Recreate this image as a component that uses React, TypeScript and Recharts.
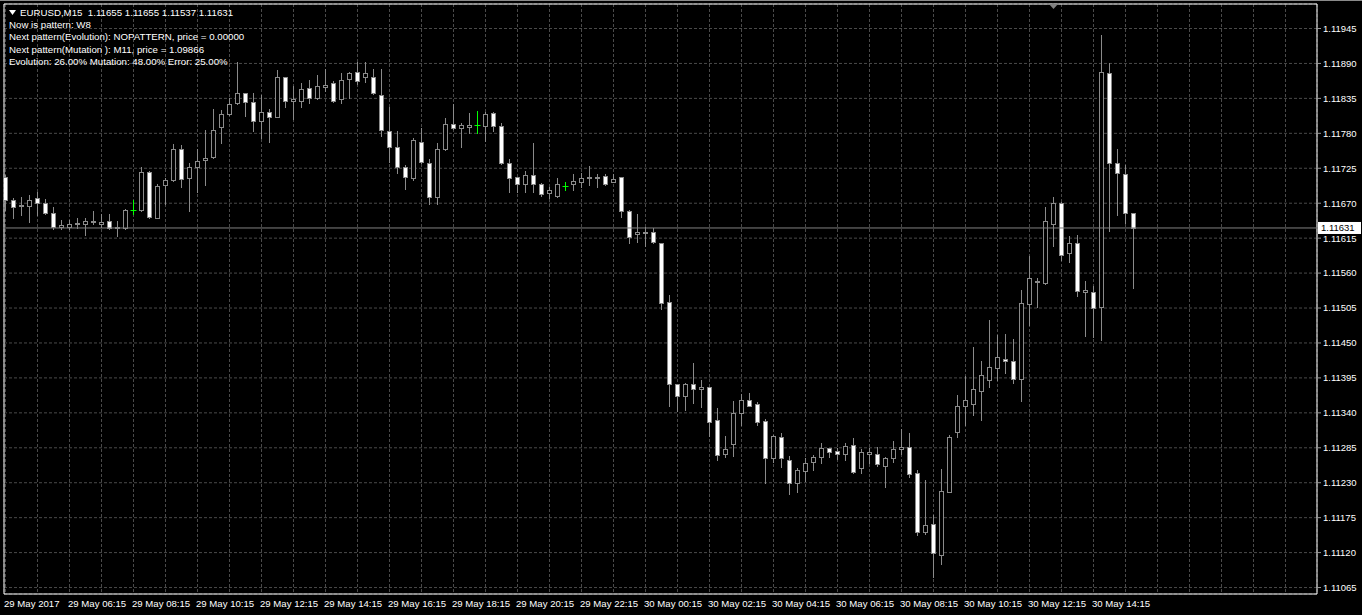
import React from "react";
import { ComposedChart, Bar, XAxis, YAxis, CartesianGrid, ReferenceLine, ReferenceArea } from "recharts";

// ---- data (EURUSD M15, 29–30 May 2017) ----
const opens = [
  1.11712, 1.11675, 1.11665, 1.11665, 1.11678, 1.11670, 1.11654, 1.11633, 1.11633, 1.11638,
  1.11638, 1.11640, 1.11638, 1.11642, 1.11632, 1.11631, 1.11660, 1.11659, 1.11719, 1.11647,
  1.11698, 1.11706, 1.11756, 1.11709, 1.11727, 1.11738, 1.11742, 1.11790, 1.11810, 1.11827,
  1.11843, 1.11829, 1.11800, 1.11813, 1.11806, 1.11868, 1.11831, 1.11831, 1.11851, 1.11835,
  1.11853, 1.11860, 1.11834, 1.11865, 1.11876, 1.11868, 1.11869, 1.11841, 1.11784, 1.11758,
  1.11727, 1.11710, 1.11766, 1.11734, 1.11679, 1.11755, 1.11795, 1.11788, 1.11790, 1.11793,
  1.11792, 1.11812, 1.11792, 1.11733, 1.11711, 1.11701, 1.11714, 1.11701, 1.11686, 1.11682,
  1.11697, 1.11701, 1.11704, 1.11709, 1.11710, 1.11713, 1.11704, 1.11711, 1.11658, 1.11621,
  1.11623, 1.11624, 1.11608, 1.11515, 1.11385, 1.11367, 1.11385, 1.11377, 1.11380, 1.11329,
  1.11275, 1.11291, 1.11339, 1.11361, 1.11354, 1.11327, 1.11269, 1.11302, 1.11266, 1.11229,
  1.11249, 1.11262, 1.11270, 1.11284, 1.11280, 1.11275, 1.11289, 1.11253, 1.11275, 1.11276,
  1.11257, 1.11269, 1.11283, 1.11286, 1.11245, 1.11153, 1.11165, 1.11116, 1.11216, 1.11310,
  1.11351, 1.11354, 1.11375, 1.11392, 1.11410, 1.11425, 1.11421, 1.11394, 1.11511, 1.11548,
  1.11544, 1.11638, 1.11671, 1.11591, 1.11607, 1.11531, 1.11531, 1.11506, 1.11875, 1.11734,
  1.11716, 1.11655,
];
const highs = [
  1.11714, 1.11678, 1.11680, 1.11683, 1.11688, 1.11676, 1.11664, 1.11644, 1.11644, 1.11646,
  1.11646, 1.11658, 1.11653, 1.11653, 1.11642, 1.11661, 1.11675, 1.11727, 1.11720, 1.11701,
  1.11710, 1.11763, 1.11762, 1.11734, 1.11756, 1.11785, 1.11818, 1.11817, 1.11835, 1.11893,
  1.11844, 1.11844, 1.11840, 1.11818, 1.11879, 1.11869, 1.11855, 1.11859, 1.11864, 1.11872,
  1.11881, 1.11863, 1.11875, 1.11877, 1.11893, 1.11893, 1.11881, 1.11881, 1.11822, 1.11784,
  1.11730, 1.11772, 1.11788, 1.11739, 1.11765, 1.11804, 1.11826, 1.11796, 1.11812, 1.11815,
  1.11814, 1.11814, 1.11796, 1.11739, 1.11712, 1.11720, 1.11765, 1.11702, 1.11695, 1.11709,
  1.11704, 1.11716, 1.11718, 1.11729, 1.11716, 1.11716, 1.11716, 1.11712, 1.11659, 1.11653,
  1.11633, 1.11631, 1.11608, 1.11525, 1.11385, 1.11387, 1.11419, 1.11392, 1.11381, 1.11347,
  1.11303, 1.11359, 1.11370, 1.11371, 1.11357, 1.11330, 1.11305, 1.11309, 1.11272, 1.11253,
  1.11269, 1.11274, 1.11292, 1.11285, 1.11284, 1.11292, 1.11300, 1.11283, 1.11284, 1.11286,
  1.11270, 1.11296, 1.11315, 1.11309, 1.11250, 1.11235, 1.11179, 1.11251, 1.11305, 1.11368,
  1.11398, 1.11443, 1.11422, 1.11486, 1.11463, 1.11464, 1.11456, 1.11533, 1.11587, 1.11552,
  1.11664, 1.11680, 1.11672, 1.11618, 1.11620, 1.11548, 1.11539, 1.11935, 1.11891, 1.11756,
  1.11730, 1.11655,
];
const lows = [
  1.11659, 1.11646, 1.11651, 1.11641, 1.11651, 1.11653, 1.11629, 1.11629, 1.11629, 1.11631,
  1.11620, 1.11638, 1.11633, 1.11630, 1.11618, 1.11630, 1.11653, 1.11658, 1.11647, 1.11646,
  1.11669, 1.11705, 1.11696, 1.11657, 1.11687, 1.11699, 1.11741, 1.11765, 1.11809, 1.11826,
  1.11808, 1.11784, 1.11772, 1.11767, 1.11805, 1.11822, 1.11803, 1.11821, 1.11828, 1.11834,
  1.11847, 1.11829, 1.11828, 1.11835, 1.11858, 1.11861, 1.11842, 1.11776, 1.11735, 1.11718,
  1.11693, 1.11707, 1.11734, 1.11669, 1.11669, 1.11754, 1.11787, 1.11758, 1.11780, 1.11781,
  1.11768, 1.11784, 1.11732, 1.11688, 1.11688, 1.11688, 1.11687, 1.11681, 1.11678, 1.11679,
  1.11690, 1.11690, 1.11695, 1.11699, 1.11696, 1.11699, 1.11703, 1.11648, 1.11608, 1.11609,
  1.11602, 1.11608, 1.11503, 1.11351, 1.11343, 1.11345, 1.11356, 1.11349, 1.11303, 1.11265,
  1.11270, 1.11272, 1.11321, 1.11350, 1.11321, 1.11229, 1.11262, 1.11255, 1.11213, 1.11216,
  1.11233, 1.11250, 1.11261, 1.11271, 1.11267, 1.11266, 1.11245, 1.11246, 1.11261, 1.11257,
  1.11224, 1.11263, 1.11276, 1.11239, 1.11148, 1.11150, 1.11082, 1.11102, 1.11215, 1.11302,
  1.11321, 1.11337, 1.11329, 1.11380, 1.11392, 1.11402, 1.11387, 1.11359, 1.11479, 1.11507,
  1.11543, 1.11603, 1.11581, 1.11577, 1.11524, 1.11461, 1.11460, 1.11455, 1.11627, 1.11651,
  1.11639, 1.11537,
];
const closes = [
  1.11675, 1.11664, 1.11667, 1.11675, 1.11671, 1.11654, 1.11633, 1.11636, 1.11638, 1.11639,
  1.11642, 1.11642, 1.11640, 1.11631, 1.11633, 1.11660, 1.11660, 1.11719, 1.11649, 1.11697,
  1.11706, 1.11755, 1.11708, 1.11727, 1.11736, 1.11741, 1.11785, 1.11810, 1.11826, 1.11843,
  1.11829, 1.11800, 1.11814, 1.11806, 1.11868, 1.11831, 1.11834, 1.11849, 1.11835, 1.11855,
  1.11856, 1.11831, 1.11864, 1.11875, 1.11863, 1.11875, 1.11843, 1.11786, 1.11759, 1.11727,
  1.11711, 1.11769, 1.11735, 1.11679, 1.11756, 1.11795, 1.11788, 1.11793, 1.11793, 1.11793,
  1.11810, 1.11792, 1.11733, 1.11709, 1.11701, 1.11714, 1.11701, 1.11684, 1.11691, 1.11700,
  1.11697, 1.11705, 1.11709, 1.11711, 1.11712, 1.11700, 1.11708, 1.11657, 1.11617, 1.11624,
  1.11625, 1.11609, 1.11513, 1.11385, 1.11367, 1.11385, 1.11377, 1.11380, 1.11326, 1.11274,
  1.11283, 1.11339, 1.11361, 1.11351, 1.11326, 1.11269, 1.11304, 1.11269, 1.11229, 1.11250,
  1.11261, 1.11270, 1.11284, 1.11279, 1.11276, 1.11288, 1.11247, 1.11278, 1.11278, 1.11259,
  1.11269, 1.11283, 1.11286, 1.11243, 1.11153, 1.11163, 1.11119, 1.11217, 1.11302, 1.11351,
  1.11361, 1.11377, 1.11399, 1.11412, 1.11428, 1.11421, 1.11393, 1.11513, 1.11553, 1.11546,
  1.11642, 1.11671, 1.11588, 1.11607, 1.11532, 1.11533, 1.11505, 1.11876, 1.11734, 1.11717,
  1.11654, 1.11631,
];

const timeLabels = [
  "29 May 2017", "29 May 06:15", "29 May 08:15", "29 May 10:15", "29 May 12:15", "29 May 14:15",
  "29 May 16:15", "29 May 18:15", "29 May 20:15", "29 May 22:15", "30 May 00:15", "30 May 02:15",
  "30 May 04:15", "30 May 06:15", "30 May 08:15", "30 May 10:15", "30 May 12:15", "30 May 14:15",
];
const labelStep = 8; // one time label every 8 bars
const gridStep = 4; // one vertical grid line every 4 bars

const priceTicks = [
  1.11065, 1.1112, 1.11175, 1.1123, 1.11285, 1.1134, 1.11395, 1.1145, 1.11505,
  1.1156, 1.11615, 1.1167, 1.11725, 1.1178, 1.11835, 1.1189, 1.11945,
];

const headerTitle = "EURUSD,M15  1.11655 1.11655 1.11537 1.11631";
const headerLines = [
  "Now is pattern: W8",
  "Next pattern(Evolution): NOPATTERN, price = 0.00000",
  "Next pattern(Mutation ): M11, price = 1.09866",
  "Evolution: 26.00% Mutation: 48.00% Error: 25.00%",
];

// ---- layout constants ----
const X_MIN = -0.1875;
const X_MAX = 163.9375;
const Y_MIN = 1.1105484;
const Y_MAX = 1.1198357;

const WICK = "#8a8a8a";
const GRID = "#4a4a4a";
const FONT = "'Liberation Sans', Arial, sans-serif";

const data = opens.map((o, i) => ({
  idx: i,
  open: o,
  high: highs[i],
  low: lows[i],
  close: closes[i],
  range: [lows[i], highs[i]],
}));

const gridIdx: number[] = [];
for (let i = 0; i <= X_MAX; i += gridStep) gridIdx.push(i);

const Candle = (props: any) => {
  const { x, y, width, height, payload } = props;
  if (!payload || x == null || y == null) return <g />;
  const cx = Math.round(x + width / 2 - 0.5) + 0.5;
  const top = Math.min(y, y + height);
  const bot = Math.max(y, y + height);
  const span = payload.high - payload.low;
  const k = span > 0 ? (bot - top) / span : 0;
  const py = (p: number) => top + (payload.high - p) * k;
  const yH = Math.round(py(payload.high));
  const yL = Math.round(py(payload.low));
  if (payload.open === payload.close) {
    const yc = Math.round(py(payload.open)) + 0.5;
    return (
      <g>
        <line x1={cx} x2={cx} y1={yH} y2={yL + 1} stroke="#00ff00" strokeWidth={1} />
        <line x1={cx - 3} x2={cx + 3} y1={yc} y2={yc} stroke="#00ff00" strokeWidth={1} />
      </g>
    );
  }
  const bull = payload.close > payload.open;
  const bTop = Math.round(py(Math.max(payload.open, payload.close)));
  const bBot = Math.round(py(Math.min(payload.open, payload.close)));
  const h = Math.max(1, bBot - bTop);
  return (
    <g>
      <line x1={cx} x2={cx} y1={yH} y2={yL + 1} stroke={WICK} strokeWidth={1} />
      <rect
        x={cx - 2}
        y={bTop + 0.5}
        width={4}
        height={h}
        fill={bull ? "#000000" : "#ffffff"}
        stroke={WICK}
        strokeWidth={1}
      />
    </g>
  );
};

const XTick = (props: any) => {
  const { x, y, payload } = props;
  const v = payload?.value;
  if (v == null || v % labelStep !== 0) return <g />;
  const label = timeLabels[v / labelStep];
  if (!label) return <g />;
  return (
    <text x={x - 1.5} y={y + 12.5} fill="#ffffff" fontSize={9.6} fontFamily={FONT}>
      {label}
    </text>
  );
};

const PriceTag = (props: any) => {
  const vb = props.viewBox || {};
  const x = (vb.x || 0) + (vb.width || 0) + 1;
  const y = vb.y || 0;
  return (
    <g>
      <rect x={x} y={y - 6} width={43} height={12} fill="#ffffff" />
      <text x={x + 3} y={y} dy="0.355em" fill="#000000" fontSize={9.5} fontFamily={FONT}>
        {closes[closes.length - 1].toFixed(5)}
      </text>
    </g>
  );
};

export default function App() {
  return (
    <div
      style={{
        position: "fixed",
        left: 0,
        top: 0,
        width: 1362,
        height: 615,
        background: "#000000",
        overflow: "hidden",
      }}
    >
      <ComposedChart
        width={1362}
        height={615}
        data={data}
        margin={{ top: 4, left: 4, right: 0, bottom: 0 }}
      >
        <CartesianGrid stroke={GRID} strokeDasharray="3 2" />
        <XAxis
          dataKey="idx"
          type="number"
          domain={[X_MIN, X_MAX]}
          allowDataOverflow
          ticks={gridIdx}
          interval={0}
          tick={<XTick />}
          tickLine={false}
          tickSize={0}
          axisLine={false}
          tickMargin={0}
          height={21}
        />
        <YAxis
          orientation="right"
          type="number"
          domain={[Y_MIN, Y_MAX]}
          allowDataOverflow
          ticks={priceTicks}
          interval={0}
          tickFormatter={(v: number) => v.toFixed(5)}
          tick={{ fill: "#ffffff", fontSize: 9.5, fontFamily: FONT }}
          tickLine={{ stroke: "#9a9a9a" }}
          tickSize={4}
          tickMargin={2}
          axisLine={false}
          width={45}
        />
        <Bar
          dataKey={(d: any) => d.range}
          barSize={5}
          shape={<Candle />}
          isAnimationActive={false}
        />
        <ReferenceLine
          y={closes[closes.length - 1]}
          stroke="#808080"
          strokeWidth={1}
          label={<PriceTag />}
        />
        <ReferenceArea
          x1={X_MIN}
          x2={X_MAX}
          y1={Y_MIN}
          y2={Y_MAX}
          fill="none"
          fillOpacity={0}
          stroke="#ffffff"
          strokeWidth={1}
        />
      </ComposedChart>
      <div
        style={{
          position: "absolute",
          left: 9,
          top: 7,
          color: "#ffffff",
          fontFamily: FONT,
          fontSize: 9.7,
          lineHeight: "12.2px",
          whiteSpace: "pre",
          pointerEvents: "none",
        }}
      >
        <div style={{ display: "flex", alignItems: "center" }}>
          <svg width={8} height={6} style={{ marginRight: 3 }}>
            <polygon points="0,0 7,0 3.5,5" fill="#ffffff" />
          </svg>
          <span>{headerTitle}</span>
        </div>
        {headerLines.map((t) => (
          <div key={t}>{t}</div>
        ))}
      </div>
      <svg
        width={10}
        height={6}
        style={{ position: "absolute", left: 1049, top: 4, pointerEvents: "none" }}
      >
        <polygon points="0,0 9,0 4.5,5" fill="#808080" />
      </svg>
      <div style={{ position: "absolute", left: 0, top: 0, width: 1362, height: 1, background: "#8a8a8a" }} />
    </div>
  );
}
